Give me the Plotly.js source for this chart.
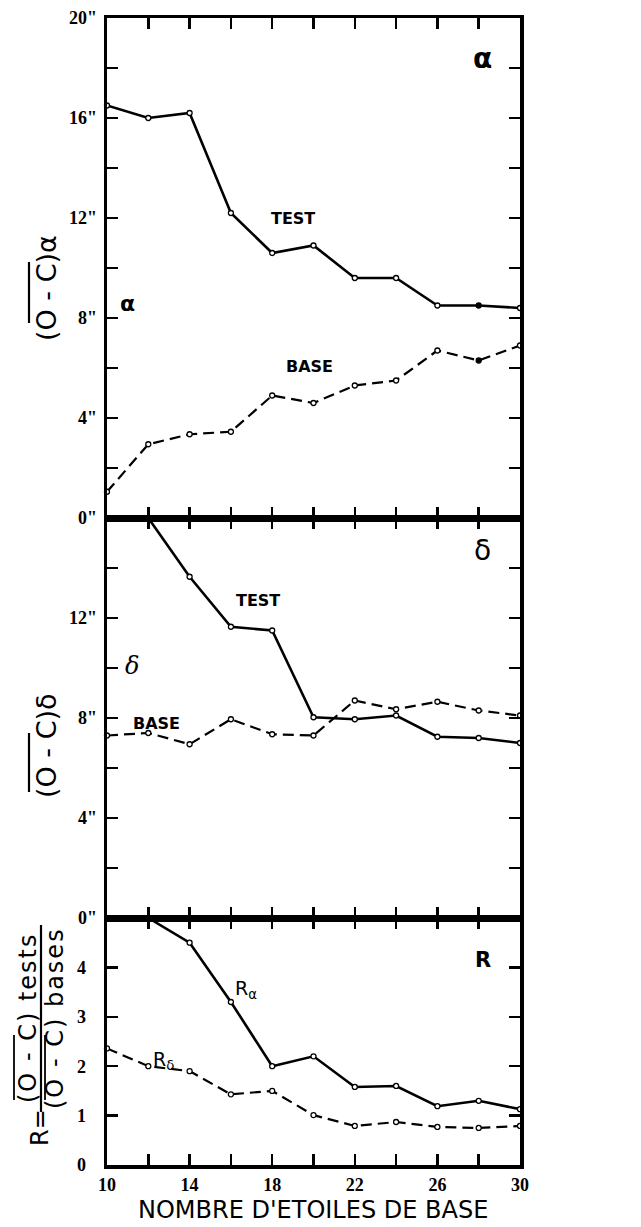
<!DOCTYPE html>
<html>
<head>
<meta charset="utf-8">
<script src="https://cdn.plot.ly/plotly-3.0.1.min.js"></script>
<style>html,body{margin:0;padding:0;background:#fff;}#chart{width:641px;height:1227px;}</style>
</head>
<body>
<div id="chart"></div>
<script>
// ---- data ----
const nStars = [10, 12, 14, 16, 18, 20, 22, 24, 26, 28, 30];
const alphaTest = [16.5, 16.0, 16.2, 12.2, 10.6, 10.9, 9.6, 9.6, 8.5, 8.5, 8.4];
const alphaBase = [1.05, 2.95, 3.35, 3.45, 4.9, 4.6, 5.3, 5.5, 6.7, 6.3, 6.9];
const deltaTest = [null, 16.0, 13.65, 11.65, 11.5, 8.03, 7.95, 8.1, 7.25, 7.2, 7.0];
const deltaBase = [7.3, 7.4, 6.95, 7.95, 7.35, 7.3, 8.7, 8.35, 8.65, 8.3, 8.1];
const rAlpha = [null, 5.0, 4.5, 3.3, 2.0, 2.2, 1.58, 1.6, 1.19, 1.3, 1.13];
const rDelta = [2.36, 2.0, 1.9, 1.43, 1.5, 1.01, 0.79, 0.87, 0.77, 0.75, 0.79];

const xTickVals = [10, 12, 14, 16, 18, 20, 22, 24, 26, 28, 30];
const xTickText = ['10', '', '14', '', '18', '', '22', '', '26', '', '30'];
const alphaTickVals = [0, 2, 4, 6, 8, 10, 12, 14, 16, 18, 20];
const alphaTickText = ['0"', '', '4"', '', '8"', '', '12"', '', '16"', '', '20"'];
const deltaTickVals = [0, 2, 4, 6, 8, 10, 12, 14, 16];
const deltaTickText = ['0"', '', '4"', '', '8"', '', '12"', '', ''];
const rTickVals = [0, 1, 2, 3, 4, 5];
const rTickText = ['0', '1', '2', '3', '4', ''];

// ---- geometry helpers (pixel -> paper) ----
const W = 641, H = 1227;
const M = {l: 107, r: 121, t: 18, b: 62};
const PW = W - M.l - M.r, PH = H - M.t - M.b;
const px = x => (x - M.l) / PW;
const py = y => (H - M.b - y) / PH;

const solid = {color: '#000', width: 2.6};
const dashed = {color: '#000', width: 2.2, dash: '11px,6px'};
const openMk = {symbol: 'circle', size: 5, color: '#fff', line: {color: '#000', width: 1.3}};
// the point at 28 stars is drawn filled in the top panel
const filledAt28 = nStars.map(n => n === 28 ? '#000' : '#fff');
const mkTop = {symbol: 'circle', size: 5, color: filledAt28, line: {color: '#000', width: 1.3}};

function tr(y, line, xa, ya, mk) {
  return {x: nStars, y: y, mode: 'lines+markers', line: line, marker: mk || openMk,
          xaxis: xa, yaxis: ya, showlegend: false, hoverinfo: 'skip', cliponaxis: false, connectgaps: false};
}

const traces = [
  tr(alphaTest, solid, 'x3', 'y3', mkTop),
  tr(alphaBase, dashed, 'x3', 'y3', mkTop),
  tr(deltaTest, solid, 'x2', 'y2'),
  tr(deltaBase, dashed, 'x2', 'y2'),
  tr(rAlpha, solid, 'x', 'y'),
  tr(rDelta, dashed, 'x', 'y')
];

const tickFont = {family: 'Liberation Sans Narrow', size: 18, color: '#000', weight: 700};
const axBase = {showgrid: false, zeroline: false, showline: true, linecolor: '#000', linewidth: 3.5,
                mirror: 'ticks', ticks: 'inside', ticklen: 11, tickwidth: 2.5, tickcolor: '#000',
                tickmode: 'array', tickfont: tickFont, fixedrange: true};

const d1 = py(518), d2 = py(918);

const layout = {
  width: W, height: H,
  margin: M,
  paper_bgcolor: '#fff', plot_bgcolor: '#fff',
  showlegend: false,
  xaxis: Object.assign({}, axBase, {range: [10, 30], anchor: 'y', tickvals: xTickVals, ticktext: xTickText, ticklabelstandoff: 1}),
  xaxis2: Object.assign({}, axBase, {range: [10, 30], anchor: 'y2', tickvals: xTickVals, showticklabels: false}),
  xaxis3: Object.assign({}, axBase, {range: [10, 30], anchor: 'y3', tickvals: xTickVals, showticklabels: false}),
  yaxis: Object.assign({}, axBase, {domain: [0, d2], range: [0, 5], anchor: 'x', tickvals: rTickVals, ticktext: rTickText, ticklabelstandoff: 14}),
  yaxis2: Object.assign({}, axBase, {domain: [d2, d1], range: [0, 16], anchor: 'x2', tickvals: deltaTickVals, ticktext: deltaTickText, ticklabelstandoff: 3}),
  yaxis3: Object.assign({}, axBase, {domain: [d1, 1], range: [0, 20], anchor: 'x3', tickvals: alphaTickVals, ticktext: alphaTickText, ticklabelstandoff: 3}),
  annotations: [],
  shapes: []
};

const lblFont = {family: 'DejaVu Sans', size: 16, color: '#000', weight: 700};
const greekFont = {family: 'DejaVu Sans', size: 28, color: '#000', weight: 700};
function dataAnn(text, x, y, xa, ya, font) {
  return {text: text, x: x, y: y, xref: xa, yref: ya, showarrow: false, font: font, xanchor: 'center', yanchor: 'middle'};
}
layout.annotations.push(
  dataAnn('α', 28.2, 18.4, 'x3', 'y3', greekFont),
  dataAnn('TEST', 19.0, 12.0, 'x3', 'y3', lblFont),
  dataAnn('α', 11.0, 8.6, 'x3', 'y3', {family: 'DejaVu Sans', size: 22, color: '#000', weight: 700}),
  dataAnn('BASE', 19.8, 6.05, 'x3', 'y3', lblFont),
  dataAnn('δ', 28.2, 14.7, 'x2', 'y2', {family: 'DejaVu Sans', size: 28, color: '#000'}),
  dataAnn('TEST', 17.3, 12.7, 'x2', 'y2', lblFont),
  dataAnn('δ', 11.2, 10.1, 'x2', 'y2', {family: 'DejaVu Serif', size: 24, color: '#000', style: 'italic'}),
  dataAnn('BASE', 12.4, 7.8, 'x2', 'y2', lblFont),
  dataAnn('R', 28.2, 4.15, 'x', 'y', {family: 'DejaVu Sans', size: 21, color: '#000', weight: 700}),
  dataAnn('R<sub>α</sub>', 16.75, 3.55, 'x', 'y', {family: 'DejaVu Sans', size: 19, color: '#000'}),
  dataAnn('R<sub>δ</sub>', 12.75, 2.12, 'x', 'y', {family: 'DejaVu Sans', size: 19, color: '#000'})
);

// x-axis title
layout.annotations.push({text: "NOMBRE D'ETOILES DE BASE", xref: 'paper', yref: 'paper', x: px(313), y: py(1210),
  showarrow: false, xanchor: 'center', yanchor: 'middle', font: {family: 'DejaVu Sans', size: 24, color: '#000'}});

// rotated y titles
const ttlFont = {family: 'DejaVu Sans', size: 27, color: '#000'};
function rot(text, x, y, font) {
  return {text: text, xref: 'paper', yref: 'paper', x: px(x), y: py(y), textangle: -90,
          showarrow: false, xanchor: 'center', yanchor: 'middle', font: font};
}
const rFont = {family: 'DejaVu Sans', size: 24, color: '#000'};
layout.annotations.push(
  rot('(O - C)α', 46, 288, ttlFont),
  rot('(O - C)δ', 46, 746, ttlFont),
  rot('<span style="letter-spacing:2px">(O - C) tests</span>', 28, 1018, rFont),
  rot('<span style="letter-spacing:2px">(O - C) bases</span>', 55, 1018, rFont),
  rot('R=', 40, 1128, rFont)
);

function vline(x, y0, y1, w) {
  return {type: 'line', xref: 'paper', yref: 'paper', x0: px(x), x1: px(x), y0: py(y0), y1: py(y1),
          line: {color: '#000', width: w}};
}
layout.shapes.push(
  vline(29, 262, 323, 2.2),
  vline(29, 733, 792, 2.2),
  vline(41, 925, 1112, 2.2),
  vline(14, 1035, 1100, 1.8),
  vline(45, 1035, 1100, 1.8)
);

Plotly.newPlot('chart', traces, layout, {staticPlot: true, displayModeBar: false});
</script>
</body>
</html>
